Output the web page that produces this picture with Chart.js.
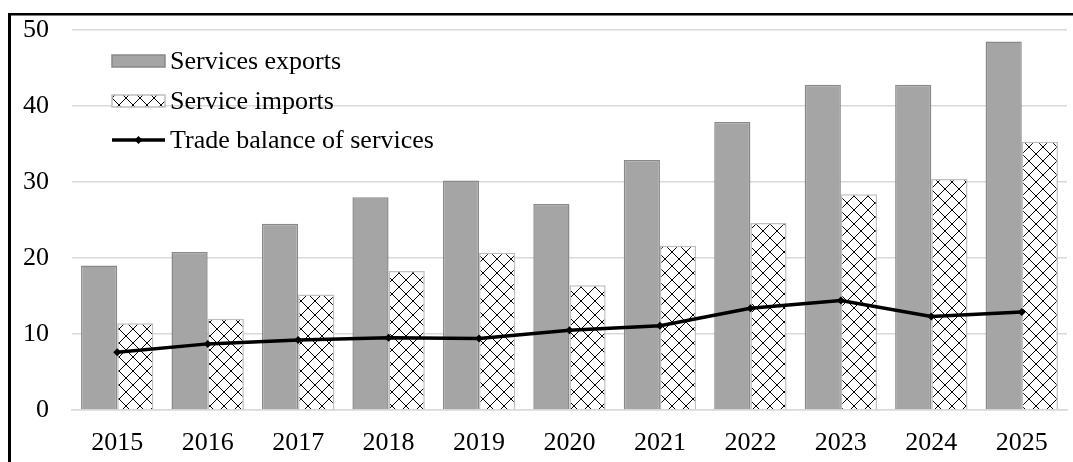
<!DOCTYPE html>
<html>
<head>
<meta charset="utf-8">
<script src="https://cdn.jsdelivr.net/npm/chart.js@4/dist/chart.umd.min.js"></script>
<style>
    body{ margin: 0; background: #fff; }
    #wrap{ position: relative; width: 1073px; height: 462px; }
</style>
</head>
<body>
<div id="wrap"><canvas id="services_graph"></canvas></div>
<script>
const years = ["2015", "2016", "2017", "2018", "2019", "2020", "2021", "2022", "2023", "2024", "2025"]
const exportsValues = [19.0, 20.8, 24.5, 28.0, 30.2, 27.1, 32.9, 37.9, 42.8, 42.8, 48.5]
const importsValues = [11.4, 12.0, 15.2, 18.3, 20.7, 16.4, 21.6, 24.6, 28.4, 30.4, 35.3]
const balanceValues = [7.6, 8.7, 9.2, 9.5, 9.4, 10.5, 11.1, 13.4, 14.4, 12.3, 12.9]
const yTicks = [0, 10, 20, 30, 40, 50]

const serif = "'Liberation Serif', 'Times New Roman', serif"
Chart.defaults.font.family = serif
Chart.defaults.font.size = 26
Chart.defaults.color = "#000"

// crosshatch tile for the imports bars
function hatchPattern(){
    let size = 14
    let tile = document.createElement("canvas")
    tile.width = size
    tile.height = size
    let c = tile.getContext("2d")
    c.fillStyle = "#fff"
    c.fillRect(0, 0, size, size)
    c.fillStyle = "#000"
    for(let i = 0; i < size; i++){
        c.fillRect(i, i, 1, 1)
        c.fillRect(size - 1 - i, i, 1, 1)
    }
    return document.getElementById("services_graph").getContext("2d").createPattern(tile, "repeat")
}

const hatch = hatchPattern()

// outer frame, only the left and top edges fall inside the page
const framePlugin = {
    id: "frame",
    beforeDraw(chart){
        let c = chart.ctx
        c.save()
        c.fillStyle = "#000"
        c.fillRect(8, 13, 3, chart.height)
        c.fillRect(8, 13, chart.width, 2.5)
        c.restore()
    }
}

// legend stacked in the upper left corner of the plot
const boxLegend = {
    id: "boxLegend",
    afterDatasetsDraw(chart){
        let c = chart.ctx
        let sets = chart.data.datasets
        let rows = [61, 101, 140]
        let x0 = 112, w = 53
        c.save()
        c.font = "26px " + serif
        c.textBaseline = "middle"
        sets.forEach((ds, i) => {
            let y = rows[i]
            if(ds.type === "line"){
                c.strokeStyle = ds.borderColor
                c.lineWidth = 3.5
                c.beginPath()
                c.moveTo(x0, y)
                c.lineTo(x0 + w, y)
                c.stroke()
                c.fillStyle = ds.borderColor
                c.beginPath()
                c.moveTo(x0 + w / 2, y - 4)
                c.lineTo(x0 + w / 2 + 4, y)
                c.lineTo(x0 + w / 2, y + 4)
                c.lineTo(x0 + w / 2 - 4, y)
                c.closePath()
                c.fill()
            } else {
                c.fillStyle = ds.backgroundColor
                c.fillRect(x0, y - 6, w, 12)
                c.strokeStyle = ds.borderColor
                c.lineWidth = 1.5
                c.strokeRect(x0, y - 6, w, 12)
            }
            c.fillStyle = "#000"
            c.fillText(ds.label, x0 + w + 5, y + 1)
        })
        c.restore()
    }
}

const chartData = {
    labels: years,
    datasets: [{
        type: "bar",
        label: "Services exports",
        data: exportsValues,
        backgroundColor: "#a5a5a5",
        borderColor: "#898989",
        borderWidth: 1.5,
        order: 2
    }, {
        type: "bar",
        label: "Service imports",
        data: importsValues,
        backgroundColor: hatch,
        borderColor: "#bfbfbf",
        borderWidth: 1.5,
        order: 2
    }, {
        type: "line",
        label: "Trade balance of services",
        data: balanceValues,
        borderColor: "#000",
        backgroundColor: "#000",
        borderWidth: 3.5,
        pointStyle: "rectRot",
        pointRadius: 4,
        pointBorderWidth: 0,
        tension: 0,
        order: 1
    }]
}

const config = {
    type: "bar",
    data: chartData,
    options: {
        responsive: true,
        maintainAspectRatio: false,
        animation: false,
        datasets: {
            bar: { barPercentage: 1, categoryPercentage: 0.8 }
        },
        layout: {
            padding: { top: 30, right: 6, bottom: 0, left: 0 }
        },
        plugins: {
            legend: { display: false },
            tooltip: { enabled: false }
        },
        scales: {
            x: {
                grid: { display: false, drawTicks: false },
                border: { display: true, color: "#d9d9d9", width: 1.5 },
                ticks: { padding: 18, maxRotation: 0 },
                afterFit(scale){
                    scale.height = 52
                    scale.paddingLeft = 0
                    scale.paddingRight = 0
                }
            },
            y: {
                min: 0,
                max: 50,
                afterBuildTicks(scale){ scale.ticks = yTicks.map(v => ({ value: v })) },
                grid: { color: "#d9d9d9", lineWidth: 1.5, drawTicks: false },
                border: { display: false },
                ticks: { padding: 23 },
                afterFit(scale){
                    scale.width = 72
                    scale.paddingTop = 0
                    scale.paddingBottom = 0
                }
            }
        }
    },
    plugins: [framePlugin, boxLegend]
}

const chart = new Chart(document.getElementById("services_graph"), config)
</script>
</body>
</html>
